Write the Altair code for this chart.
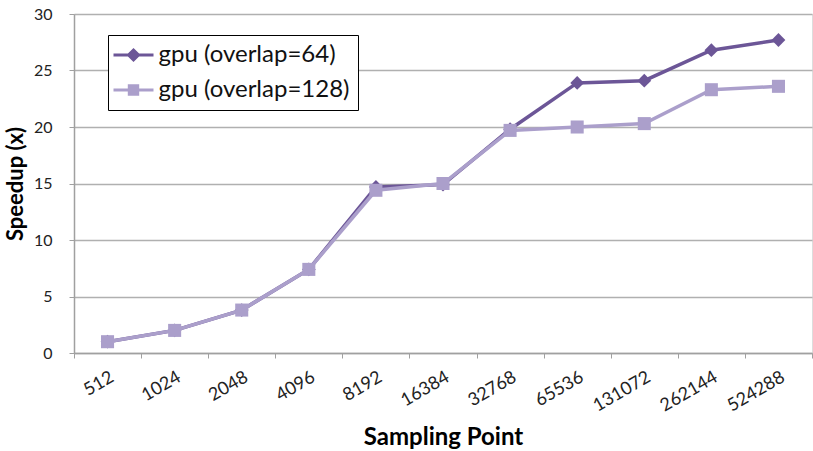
import altair as alt
import pandas as pd

categories = ["512", "1024", "2048", "4096", "8192", "16384", "32768",
              "65536", "131072", "262144", "524288"]
gpu64 = [1.0, 2.0, 3.8, 7.4, 14.7, 14.9, 19.8, 23.9, 24.1, 26.8, 27.7]
gpu128 = [1.0, 2.0, 3.8, 7.4, 14.4, 15.0, 19.7, 20.0, 20.3, 23.3, 23.6]
series_names = ["gpu (overlap=64)", "gpu (overlap=128)"]
series_colors = ["#6c5697", "#ab9fcb"]

FONT = "Lato"

df = pd.DataFrame({
    "point": categories * 2,
    "speedup": gpu64 + gpu128,
    "series": [series_names[0]] * len(categories) + [series_names[1]] * len(categories),
})

# legend symbols: a line with a (solid-looking) marker on it
legend_paths = [
    "M-2,0L2,0M0,-0.5L0.5,0L0,0.5L-0.5,0ZM0,-0.2L0.2,0L0,0.2L-0.2,0Z",
    "M-2,0L2,0M-0.42,-0.42L0.42,-0.42L0.42,0.42L-0.42,0.42Z"
    "M-0.15,-0.15L0.15,-0.15L0.15,0.15L-0.15,0.15Z",
]

x_enc = alt.X("point:N", sort=categories, title="Sampling Point",
              scale=alt.Scale(paddingInner=0, paddingOuter=0),
              axis=alt.Axis(labelAngle=-30, labelAlign="right", labelBaseline="top",
                            labelFontSize=18, labelFont=FONT, labelColor="#222",
                            labelPadding=10,
                            titleFontSize=24, titleFont=FONT, titleFontWeight="bold",
                            titleColor="#000", titlePadding=11,
                            tickBand="extent", tickSize=5, tickColor="#a0a0a0",
                            domainColor="#a0a0a0", domainWidth=1.5, grid=False))
y_enc = alt.Y("speedup:Q", title="Speedup (x)",
              scale=alt.Scale(domain=[0, 30], nice=False),
              axis=alt.Axis(values=[0, 5, 10, 15, 20, 25, 30], labelFontSize=16,
                            labelFont=FONT, labelColor="#222", labelPadding=17,
                            titleFontSize=22, titleFont=FONT, titleFontWeight="bold",
                            titleColor="#000", titlePadding=6,
                            tickSize=5, tickColor="#a0a0a0", domainColor="#a0a0a0",
                            domainWidth=1.5, gridColor="#b0b0b0", gridWidth=1.5))

base = alt.Chart(df)

def series_layer(i, shape, size):
    sub = base.transform_filter(alt.datum.series == series_names[i])
    ln = sub.mark_line(strokeWidth=3.5, color=series_colors[i]).encode(x=x_enc, y=y_enc)
    pt = sub.mark_point(shape=shape, filled=True, size=size, opacity=1,
                        color=series_colors[i]).encode(x=x_enc, y=y_enc)
    return [ln, pt]

leg = alt.Legend(title=None, orient="none", legendX=34, legendY=21,
                 strokeColor="#000", fillColor="#fff", padding=8,
                 labelFontSize=24, labelFont=FONT, labelColor="#111",
                 symbolSize=400, symbolStrokeWidth=3,
                 symbolOffset=5.5, labelOffset=13, rowPadding=11, labelLimit=400)
legend_carrier = base.transform_filter("false").mark_point(
    filled=False, strokeWidth=3, size=400, opacity=1).encode(
    x=x_enc, y=y_enc,
    color=alt.Color("series:N", scale=alt.Scale(domain=series_names, range=series_colors), legend=leg),
    shape=alt.Shape("series:N", scale=alt.Scale(domain=series_names, range=legend_paths), legend=leg),
)

layers = series_layer(0, "diamond", 190) + series_layer(1, "square", 170) + [legend_carrier]

chart = alt.layer(*layers).properties(
    width=738, height=339,
    autosize=alt.AutoSizeParams(type="none"),
    padding={"left": 74, "top": 14, "right": 1, "bottom": 98},
).configure_view(stroke=None).configure(background="#ffffff")

chart.save("out.html", embed_options={"renderer": "svg", "actions": False})
